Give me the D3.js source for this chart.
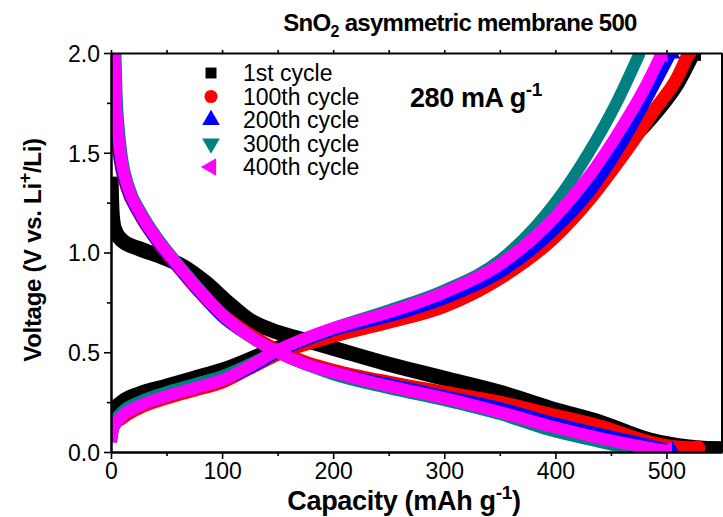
<!DOCTYPE html>
<html>
<head>
<meta charset="utf-8">
<script src="https://cdn.jsdelivr.net/npm/d3@7"></script>
<style>
  html, body { margin: 0; padding: 0; background: #fff; }
  svg { display: block; font-family: "Liberation Sans", Arial, sans-serif; }
</style>
</head>
<body>
<svg id="chart" width="723" height="517"></svg>
<script>
// Galvanostatic discharge/charge profiles, [capacity mAh/g, voltage V]
const cycleNames = ["1st cycle", "100th cycle", "200th cycle", "300th cycle", "400th cycle"];
const cycleColors = ["#000000", "#ff0000", "#0000ff", "#008080", "#ff00ff"];

const discharge1 = [[0,1.38],[1,1.2],[3,1.12],[10,1.06],[25,1.02],[45,0.98],[65,0.93],[85,0.85],[105,0.75],[125,0.66],[150,0.6],[175,0.56],[200,0.52],[250,0.44],[300,0.37],[350,0.3],[395,0.22],[440,0.15],[485,0.06],[520,0.025],[544,0.015]];
const charge1 = [[0,0.15],[3,0.21],[10,0.25],[25,0.29],[50,0.33],[75,0.37],[100,0.41],[150,0.52],[200,0.6],[250,0.67],[300,0.76],[350,0.93],[400,1.18],[430,1.35],[460,1.52],[490,1.7],[510,1.85],[524,2.0]];

const discharge100 = [[2,2.0],[3,1.8],[5,1.62],[8,1.47],[14,1.33],[25,1.2],[40,1.07],[60,0.93],[80,0.8],[100,0.69],[125,0.59],[150,0.51],[175,0.45],[200,0.41],[250,0.35],[300,0.3],[350,0.25],[395,0.19],[440,0.13],[485,0.05],[510,0.025],[528,0.02]];
const charge100 = [[0,0.08],[2,0.13],[10,0.17],[25,0.22],[50,0.27],[75,0.31],[100,0.35],[125,0.42],[150,0.49],[200,0.58],[250,0.65],[300,0.73],[350,0.87],[400,1.08],[430,1.26],[460,1.48],[490,1.72],[510,1.88],[520,2.0]];

const discharge200 = [[2,2.0],[3,1.8],[5,1.62],[8,1.47],[14,1.33],[25,1.2],[40,1.07],[60,0.93],[80,0.8],[100,0.68],[125,0.58],[150,0.5],[175,0.44],[200,0.4],[250,0.34],[300,0.28],[350,0.22],[395,0.15],[440,0.09],[480,0.04],[505,0.005]];
const charge200 = [[0,0.05],[2,0.12],[10,0.18],[25,0.23],[50,0.28],[75,0.32],[100,0.36],[125,0.42],[150,0.5],[175,0.56],[200,0.61],[250,0.68],[300,0.77],[350,0.9],[400,1.12],[430,1.3],[460,1.55],[485,1.8],[504,2.0]];

const discharge300 = [[4,2.0],[5,1.8],[7,1.62],[10,1.47],[16,1.33],[27,1.2],[42,1.07],[62,0.93],[82,0.8],[100,0.69],[125,0.58],[150,0.5],[175,0.44],[200,0.39],[250,0.32],[300,0.26],[350,0.19],[395,0.11],[440,0.05],[476,0.005]];
const charge300 = [[0,0.09],[2,0.14],[10,0.2],[25,0.25],[50,0.3],[75,0.34],[100,0.38],[125,0.44],[150,0.51],[200,0.62],[250,0.71],[300,0.81],[350,0.96],[400,1.25],[430,1.5],[455,1.75],[476,2.0]];

const discharge400 = [[3,2.0],[4,1.8],[6,1.62],[9,1.47],[15,1.33],[26,1.2],[41,1.07],[61,0.93],[81,0.8],[100,0.69],[125,0.58],[150,0.5],[175,0.44],[200,0.4],[250,0.33],[300,0.27],[350,0.2],[395,0.13],[440,0.07],[480,0.025],[500,0.005]];
const charge400 = [[0,0.05],[2,0.12],[10,0.18],[25,0.23],[50,0.28],[75,0.32],[100,0.36],[125,0.43],[150,0.51],[175,0.57],[200,0.62],[250,0.7],[300,0.8],[350,0.94],[400,1.18],[430,1.38],[460,1.63],[480,1.82],[496,2.0]];

const dischargeCurves = [discharge1, discharge100, discharge200, discharge300, discharge400];
const chargeCurves = [charge1, charge100, charge200, charge300, charge400];

const xTicks = [0, 100, 200, 300, 400, 500];
const yTicks = [0.0, 0.5, 1.0, 1.5, 2.0];

const svg = d3.select("#chart");
const margin = { left: 111, right: 1, top: 53, bottom: 65 };
const W = 723, H = 517;

const x = d3.scaleLinear().domain([0, 550]).range([margin.left, W - margin.right]);
const y = d3.scaleLinear().domain([0, 2.0]).range([H - margin.bottom, margin.top]);

svg.append("defs").append("clipPath").attr("id", "plotClip")
  .append("rect")
  .attr("x", x(0)).attr("y", y(2.0))
  .attr("width", x(550) - x(0)).attr("height", y(0) - y(2.0));

const plot = svg.append("g").attr("clip-path", "url(#plotClip)");

const line = d3.line()
  .x(d => x(d[0])).y(d => y(d[1]))
  .curve(d3.curveMonotoneX);

const widths = [15, 13, 12, 12, 12];
const markerTypes = [d3.symbolSquare, d3.symbolCircle, d3.symbolTriangle, d3.symbolTriangle, d3.symbolTriangle];
const markerRotate = [0, 0, 0, 180, -90];

cycleNames.forEach((name, i) => {
  [dischargeCurves[i], chargeCurves[i]].forEach(curve => {
    plot.append("path")
      .datum(curve)
      .attr("d", line)
      .attr("fill", "none")
      .attr("stroke", cycleColors[i])
      .attr("stroke-width", widths[i])
      .attr("stroke-linejoin", "round");
    // marker at the last point of each series
    const last = curve[curve.length - 1];
    plot.append("path")
      .attr("d", d3.symbol().type(markerTypes[i]).size(widths[i] * widths[i] * 1.1)())
      .attr("transform", `translate(${x(last[0])},${y(last[1])}) rotate(${markerRotate[i]})`)
      .attr("fill", cycleColors[i]);
  });
});

// Axes
const axisColor = "#000";
const tickFont = "23px";
const xAxis = d3.axisBottom(x).tickValues(xTicks).tickFormat(d3.format("d")).tickSize(7).tickSizeOuter(0);
const xMinor = d3.axisBottom(x).tickValues(d3.range(50, 550, 100)).tickFormat("").tickSize(4).tickSizeOuter(0);
const yAxis = d3.axisLeft(y).tickValues(yTicks).tickFormat(d3.format(".1f")).tickSize(7).tickSizeOuter(0);
const yMinor = d3.axisLeft(y).tickValues([0.25, 0.75, 1.25, 1.75]).tickFormat("").tickSize(4).tickSizeOuter(0);

function styleAxis(g) {
  g.selectAll(".domain").attr("stroke", axisColor).attr("stroke-width", 2);
  g.selectAll(".tick line").attr("stroke", axisColor).attr("stroke-width", 1.6);
  g.selectAll(".tick text").attr("fill", "#000").style("font-size", tickFont)
    .style("font-family", "'Liberation Sans', Arial, sans-serif");
}

svg.append("g").attr("transform", `translate(0,${y(0)})`).call(xMinor).call(styleAxis);
svg.append("g").attr("transform", `translate(0,${y(0)})`).call(xAxis).call(styleAxis)
  .selectAll(".tick text").attr("dy", "0.75em").attr("y", 10);
svg.append("g").attr("transform", `translate(${x(0)},0)`).call(yMinor).call(styleAxis);
svg.append("g").attr("transform", `translate(${x(0)},0)`).call(yAxis).call(styleAxis)
  .selectAll(".tick text").attr("x", -11).attr("dy", "0.36em");

// top and right frame lines
const topAxis = d3.axisTop(x).tickValues(d3.range(0, 550, 50)).tickFormat("").tickSize(3).tickSizeOuter(0);
svg.append("g").attr("transform", `translate(0,${y(2.0)})`).call(topAxis).call(styleAxis);
svg.append("line")
  .attr("x1", x(550)).attr("x2", x(550)).attr("y1", y(2.0)).attr("y2", y(0))
  .attr("stroke", axisColor).attr("stroke-width", 2);

// Title
const title = svg.append("text")
  .attr("x", 460).attr("y", 31).attr("text-anchor", "middle")
  .style("font-size", "24px").style("font-weight", "bold").style("letter-spacing", "-0.7px");
title.append("tspan").text("SnO");
title.append("tspan").attr("dy", 6).style("font-size", "16px").text("2");
title.append("tspan").attr("dy", -6).text(" asymmetric membrane 500");

// Axis titles
const xTitle = svg.append("text")
  .attr("x", 404).attr("y", 510).attr("text-anchor", "middle")
  .style("font-size", "27px").style("font-weight", "bold").style("letter-spacing", "-0.3px");
xTitle.append("tspan").text("Capacity (mAh g");
xTitle.append("tspan").attr("dy", -11).style("font-size", "19px").text("-1");
xTitle.append("tspan").attr("dy", 11).text(")");

const yTitle = svg.append("text")
  .attr("transform", `translate(41,250) rotate(-90)`).attr("text-anchor", "middle")
  .style("font-size", "24px").style("font-weight", "bold").style("letter-spacing", "-0.3px");
yTitle.append("tspan").text("Voltage (V vs. Li");
yTitle.append("tspan").attr("dy", -10).style("font-size", "18px").text("+");
yTitle.append("tspan").attr("dy", 10).text("/Li)");

// Current density label
const rate = svg.append("text")
  .attr("x", 410).attr("y", 107)
  .style("font-size", "27px").style("font-weight", "bold").style("letter-spacing", "-0.4px");
rate.append("tspan").text("280 mA g");
rate.append("tspan").attr("dy", -11).style("font-size", "19px").text("-1");

// Legend
const legend = svg.append("g");
cycleNames.forEach((name, i) => {
  const ly = 73 + i * 23.5;
  legend.append("path")
    .attr("d", d3.symbol().type(markerTypes[i]).size(i === 0 ? 120 : 135)())
    .attr("transform", `translate(211,${ly}) rotate(${markerRotate[i]})`)
    .attr("fill", cycleColors[i]);
  legend.append("text")
    .attr("x", 243).attr("y", ly + 8)
    .style("font-size", "23px")
    .text(name);
});
</script>
</body>
</html>
